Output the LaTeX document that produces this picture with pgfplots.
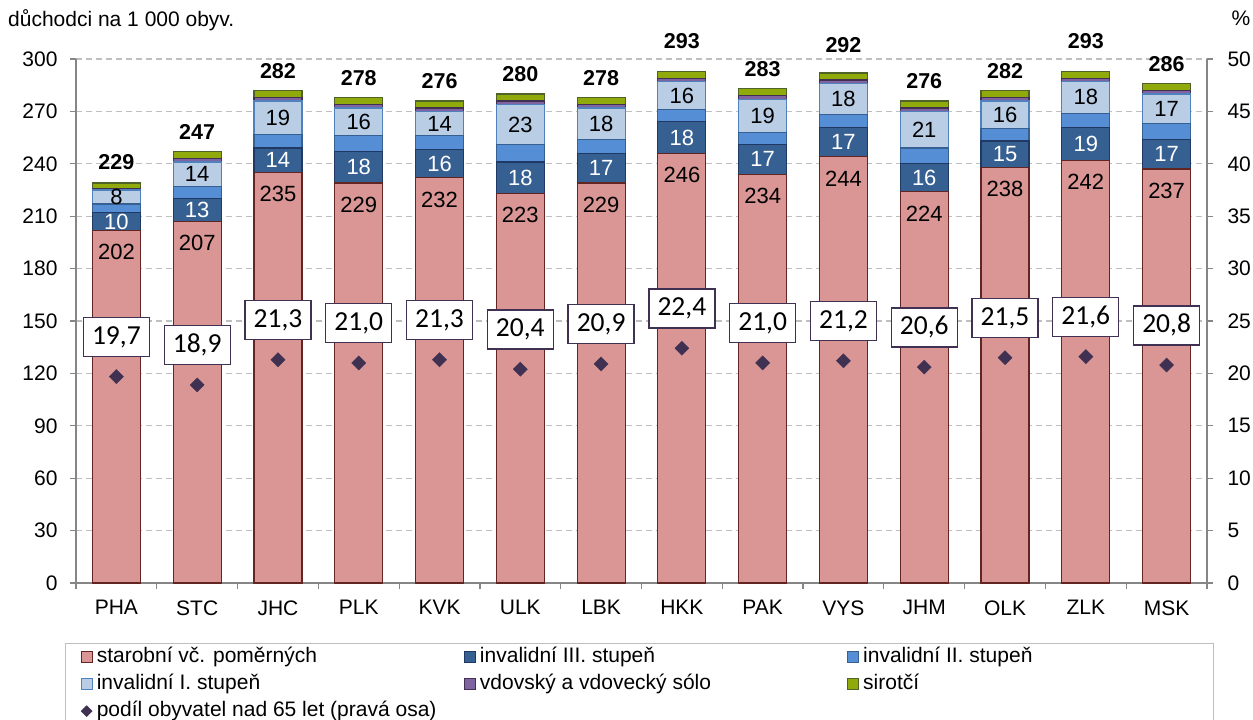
\documentclass[border=0pt]{standalone}
\usepackage{pgfplots}
\pgfplotsset{compat=1.18}
\usepackage{fontspec}
\setmainfont{Liberation Sans}
\newfontfamily\calfont{Carlito}
\definecolor{starF}{RGB}{217,150,148}
\definecolor{starD}{RGB}{99,37,35}
\definecolor{i3F}{RGB}{55,96,146}
\definecolor{i3D}{RGB}{31,56,100}
\definecolor{i2F}{RGB}{85,142,213}
\definecolor{i2D}{RGB}{55,96,146}
\definecolor{i1F}{RGB}{185,205,229}
\definecolor{i1D}{RGB}{79,129,189}
\definecolor{vdF}{RGB}{128,100,162}
\definecolor{vdD}{RGB}{64,49,82}
\definecolor{siF}{RGB}{143,170,10}
\definecolor{siD}{RGB}{79,98,40}
\definecolor{dmd}{RGB}{64,49,82}
\definecolor{axc}{RGB}{134,134,134}
\definecolor{grc}{RGB}{191,191,191}
\begin{document}
\begin{tikzpicture}[x=1pt,y=1pt]
\useasboundingbox (-76,-137) rectangle (1177,583);
\begin{axis}[
 at={(0,0)}, anchor=south west, scale only axis, width=1131pt, height=524pt,
 xmin=-0.5, xmax=13.5, ymin=0, ymax=300,
 ybar stacked, bar width=48pt,
 axis x line*=bottom, axis y line*=left,
 axis line style={draw=axc, line width=1.2pt, -},
 xtick={0,...,13}, xticklabels={PHA,STC,JHC,PLK,KVK,ULK,LBK,HKK,PAK,VYS,JHM,OLK,ZLK,MSK},
 major x tick style={draw=none},
 minor xtick={-0.5,0.5,...,13.5},
 minor x tick style={draw=axc, line width=1.2pt},
 minor tick length=6pt,
 ytick={0,30,...,300},
 y tick style={draw=axc, line width=1.2pt},
 major tick length=6pt,
 tick align=outside,
 ymajorgrids, major grid style={draw=grc, line width=1.2pt, dash pattern=on 6pt off 4pt},
 tick label style={font=\fontsize{21}{25}\selectfont},
 /pgf/number format/assume math mode=true,
 yticklabel style={xshift=-9pt},
 xticklabel style={yshift=-8pt},
 point meta=explicit symbolic,
 legend columns=3,
 legend style={at={(-0.00973,-0.1145)}, anchor=north west, draw=grc, line width=1.2pt,
   font=\fontsize{21}{25}\selectfont, inner xsep=15pt, inner ysep=1.5pt, row sep=4pt,
   nodes={inner xsep=4pt, inner ysep=2pt, text height=15pt, text depth=4pt}},
 legend cell align=left,
 bar leg/.style={legend image code/.code={\draw[##1, line width=1.2pt] (0.5pt,-6pt) rectangle (11.5pt,5pt);}},
 centerlab/.style={nodes near coords, every node near coord/.append style={anchor=center, font=\fontsize{22}{26}\selectfont, text=#1}},
]
\addplot[fill=starF, draw=starD, line width=1.2pt, bar leg, nodes near coords,
  every node near coord/.append style={anchor=north, yshift={0.8734*\pgfplotspointmeta-10}, font=\fontsize{22}{26}\selectfont, text=black}]
 coordinates {(0,202)[202] (1,207)[207] (2,235)[235] (3,229)[229] (4,232)[232] (5,223)[223] (6,229)[229] (7,246)[246] (8,234)[234] (9,244)[244] (10,224)[224] (11,238)[238] (12,242)[242] (13,237)[237]};
\addlegendentry{\makebox[363pt][l]{starobní vč. poměrných}}
\addplot[fill=i3F, draw=i3D, line width=1.2pt, bar leg, centerlab=white]
 coordinates {(0,10)[10] (1,13)[13] (2,14)[14] (3,18)[18] (4,16)[16] (5,18)[18] (6,17)[17] (7,18)[18] (8,17)[17] (9,17)[17] (10,16)[16] (11,15)[15] (12,19)[19] (13,17)[17]};
\addlegendentry{\makebox[363pt][l]{invalidní III. stupeň}}
\addplot[fill=i2F, draw=i2D, line width=1.2pt, bar leg]
 coordinates {(0,5)[5] (1,7)[7] (2,8)[8] (3,9)[9] (4,8)[8] (5,10)[10] (6,8)[8] (7,7)[7] (8,7)[7] (9,7)[7] (10,9)[9] (11,7)[7] (12,8)[8] (13,9)[9]};
\addlegendentry{\makebox[331pt][l]{invalidní II. stupeň}}
\addplot[fill=i1F, draw=i1D, line width=1.2pt, bar leg, centerlab=black]
 coordinates {(0,8)[8] (1,14)[14] (2,19)[19] (3,16)[16] (4,14)[14] (5,23)[23] (6,18)[18] (7,16)[16] (8,19)[19] (9,18)[18] (10,21)[21] (11,16)[16] (12,18)[18] (13,17)[17]};
\addlegendentry{\makebox[363pt][l]{invalidní I. stupeň}}
\addplot[fill=vdF, draw=vdD, line width=1.2pt, bar leg]
 coordinates {(0,1)[1] (1,2)[2] (2,2)[2] (3,2)[2] (4,2)[2] (5,2)[2] (6,2)[2] (7,2)[2] (8,2)[2] (9,2)[2] (10,2)[2] (11,2)[2] (12,2)[2] (13,2)[2]};
\addlegendentry{\makebox[363pt][l]{vdovský a vdovecký sólo}}
\addplot[fill=siF, draw=siD, line width=1.2pt, bar leg, nodes near coords,
  every node near coord/.append style={anchor=south, yshift=11.5pt, font=\bfseries\fontsize{21.5}{25}\selectfont, text=black}]
 coordinates {(0,3)[229] (1,4)[247] (2,4)[282] (3,4)[278] (4,4)[276] (5,4)[280] (6,4)[278] (7,4)[\raisebox{11pt}{293}] (8,4)[283] (9,4)[\raisebox{9pt}{292}] (10,4)[276] (11,4)[282] (12,4)[\raisebox{11pt}{293}] (13,4)[286]};
\addlegendentry{\makebox[331pt][l]{sirotčí}}
\addlegendimage{legend image code/.code={\fill[dmd] (6pt,-5.5pt)--(11pt,-0.5pt)--(6pt,4.5pt)--(1pt,-0.5pt)--cycle;}}
\addlegendentry{\makebox[363pt][l]{podíl obyvatel nad 65 let (pravá osa)}}
\end{axis}
\begin{axis}[
 at={(0,0)}, anchor=south west, scale only axis, width=1131pt, height=524pt,
 xmin=-0.5, xmax=13.5, ymin=0, ymax=50,
 axis x line=none, axis y line*=right,
 axis line style={draw=axc, line width=1.2pt, -},
 ytick={0,5,...,50},
 y tick style={draw=axc, line width=1.2pt},
 major tick length=6pt, tick align=outside,
 tick label style={font=\fontsize{21}{25}\selectfont},
 /pgf/number format/assume math mode=true,
 yticklabel style={xshift=11pt},
 point meta=explicit symbolic,
]
\addplot[only marks, mark=square*, mark size=5pt, mark options={rotate=45, fill=dmd, draw=dmd},
  nodes near coords,
  every node near coord/.append style={anchor=south, yshift=19.5pt, draw=dmd, fill=white, line width=1.3pt,
    minimum width=66pt, minimum height=39pt, inner sep=0pt, font=\calfont\fontsize{27.5}{32}\selectfont, text=black}]
 coordinates {(0,19.7)[19{,}7] (1,18.9)[18{,}9] (2,21.3)[21{,}3] (3,21.0)[21{,}0] (4,21.3)[21{,}3] (5,20.4)[20{,}4] (6,20.9)[20{,}9] (7,22.4)[22{,}4] (8,21.0)[21{,}0] (9,21.2)[21{,}2] (10,20.6)[20{,}6] (11,21.5)[21{,}5] (12,21.6)[21{,}6] (13,20.8)[20{,}8]};
\end{axis}
\node[anchor=west, font=\fontsize{21}{25}\selectfont, inner sep=0pt] at (-68,563) {důchodci na 1 000 obyv.};
\node[font=\fontsize{21}{25}\selectfont, inner sep=0pt] at (1165,565) {\%};
\end{tikzpicture}
\end{document}
